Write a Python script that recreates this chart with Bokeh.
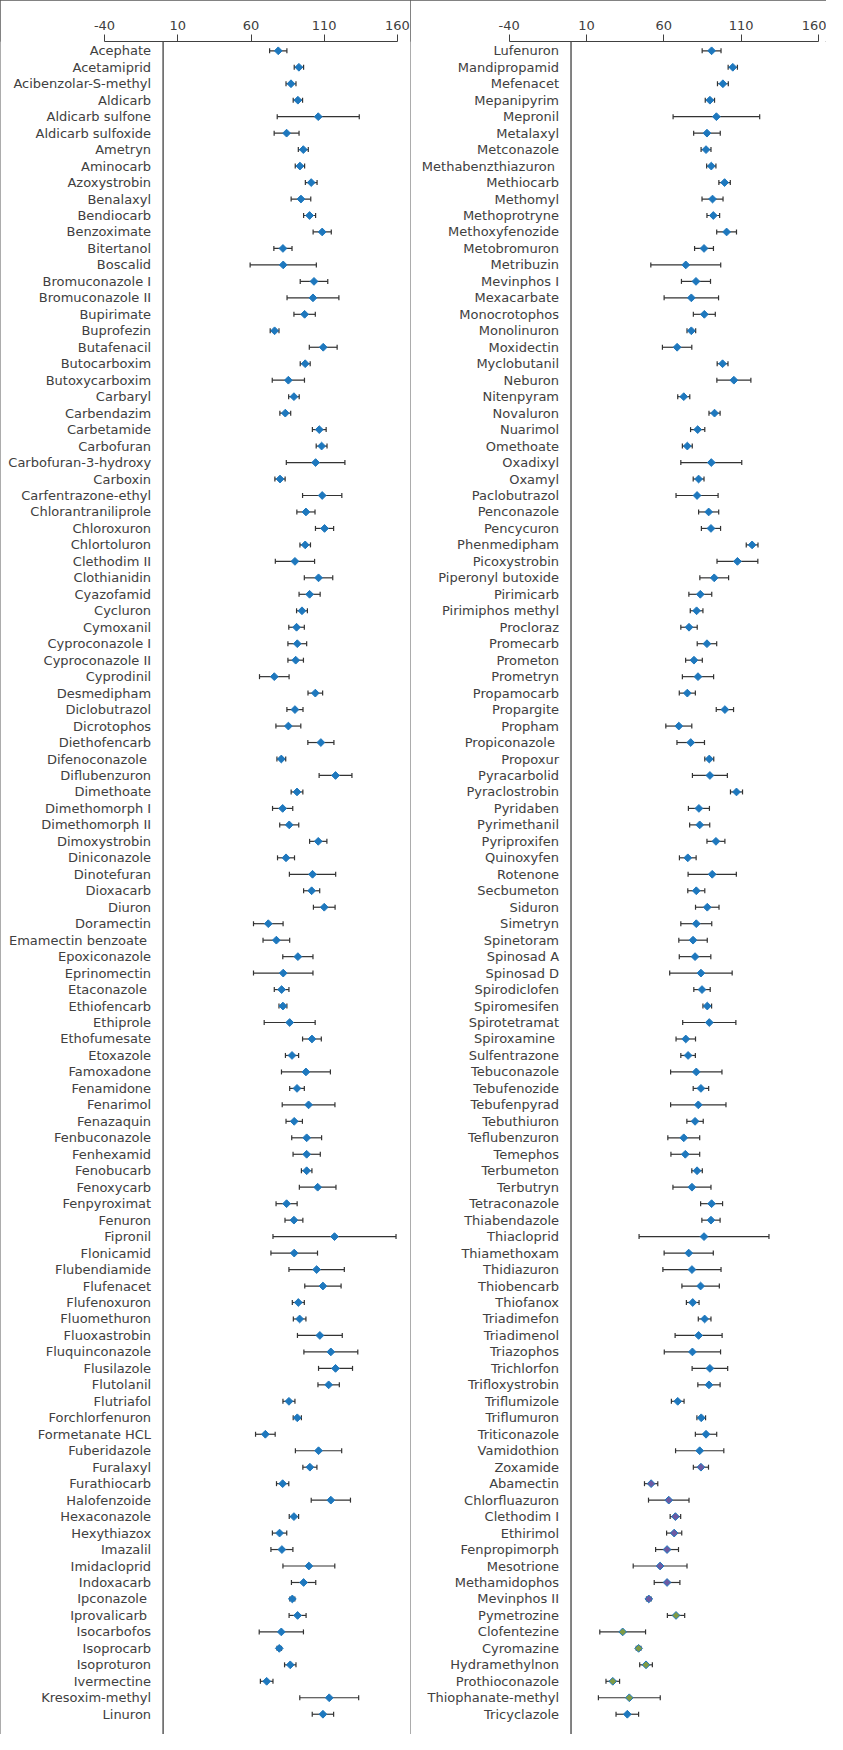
import math
from bokeh.plotting import figure
from bokeh.models import Range1d, LinearAxis, FixedTicker, Span, Whisker, ColumnDataSource
from bokeh.layouts import row
from bokeh.core.properties import value
from bokeh.embed import file_html
from bokeh.resources import INLINE

tick_values = [-40, 10, 60, 110, 160]
tick_labels = ["-40", "10", "60", "110", "160"]

left_names = [
    "Acephate", "Acetamiprid", "Acibenzolar-S-methyl", "Aldicarb", "Aldicarb sulfone",
    "Aldicarb sulfoxide", "Ametryn", "Aminocarb", "Azoxystrobin", "Benalaxyl",
    "Bendiocarb", "Benzoximate", "Bitertanol", "Boscalid", "Bromuconazole I",
    "Bromuconazole II", "Bupirimate", "Buprofezin", "Butafenacil", "Butocarboxim",
    "Butoxycarboxim", "Carbaryl", "Carbendazim", "Carbetamide", "Carbofuran",
    "Carbofuran-3-hydroxy", "Carboxin", "Carfentrazone-ethyl", "Chlorantraniliprole", "Chloroxuron",
    "Chlortoluron", "Clethodim II", "Clothianidin", "Cyazofamid", "Cycluron",
    "Cymoxanil", "Cyproconazole I", "Cyproconazole II", "Cyprodinil", "Desmedipham",
    "Diclobutrazol", "Dicrotophos", "Diethofencarb", "Difenoconazole ", "Diflubenzuron",
    "Dimethoate", "Dimethomorph I", "Dimethomorph II", "Dimoxystrobin", "Diniconazole",
    "Dinotefuran", "Dioxacarb", "Diuron", "Doramectin", "Emamectin benzoate ",
    "Epoxiconazole", "Eprinomectin", "Etaconazole ", "Ethiofencarb", "Ethiprole",
    "Ethofumesate", "Etoxazole", "Famoxadone", "Fenamidone", "Fenarimol",
    "Fenazaquin", "Fenbuconazole", "Fenhexamid", "Fenobucarb", "Fenoxycarb",
    "Fenpyroximat", "Fenuron", "Fipronil", "Flonicamid", "Flubendiamide",
    "Flufenacet", "Flufenoxuron", "Fluomethuron", "Fluoxastrobin", "Fluquinconazole",
    "Flusilazole", "Flutolanil", "Flutriafol", "Forchlorfenuron", "Formetanate HCL",
    "Fuberidazole", "Furalaxyl", "Furathiocarb", "Halofenzoide", "Hexaconazole",
    "Hexythiazox", "Imazalil", "Imidacloprid", "Indoxacarb", "Ipconazole ",
    "Iprovalicarb ", "Isocarbofos", "Isoprocarb", "Isoproturon", "Ivermectine",
    "Kresoxim-methyl", "Linuron",
]
left_values = [
    78.6, 92.7, 87.3, 92.0, 105.9, 84.3, 95.7, 93.4, 101.1, 94.1,
    100.0, 108.6, 81.8, 82.0, 103.0, 102.3, 96.6, 76.1, 109.3, 97.0,
    85.5, 89.3, 83.4, 106.6, 108.2, 104.1, 79.8, 108.6, 97.5, 110.2,
    97.0, 90.0, 106.1, 100.0, 94.8, 91.1, 91.6, 90.5, 75.9, 103.9,
    90.0, 85.5, 107.7, 80.7, 117.7, 91.4, 81.6, 86.1, 105.9, 83.9,
    102.0, 101.4, 110.0, 71.8, 77.3, 92.0, 82.0, 80.9, 81.8, 86.4,
    101.6, 88.0, 97.5, 91.4, 99.3, 89.5, 98.0, 98.0, 98.0, 105.5,
    84.3, 89.3, 117.0, 89.5, 104.8, 109.1, 92.3, 93.2, 107.0, 114.5,
    117.7, 113.0, 85.9, 91.6, 69.8, 106.1, 100.2, 81.6, 114.5, 89.3,
    79.5, 81.1, 99.5, 95.9, 88.2, 91.8, 80.7, 79.3, 86.8, 70.7,
    113.4, 109.1,
]
left_errors = [
    5.9, 3.2, 3.4, 3.2, 28.0, 8.5, 3.4, 3.2, 4.0, 6.7,
    4.1, 6.2, 6.2, 22.6, 9.4, 17.7, 7.3, 3.0, 9.5, 3.4,
    11.0, 3.6, 3.7, 4.7, 3.7, 20.0, 3.5, 13.4, 6.2, 6.2,
    3.6, 13.4, 9.7, 7.2, 3.7, 5.3, 6.4, 5.3, 10.1, 5.0,
    5.5, 8.5, 8.9, 3.0, 11.2, 4.0, 6.9, 6.5, 5.9, 5.8,
    15.8, 5.5, 7.4, 10.1, 9.1, 10.3, 20.3, 5.0, 2.7, 17.4,
    6.4, 4.5, 16.7, 5.0, 18.0, 5.6, 10.2, 9.3, 3.6, 12.5,
    7.2, 6.1, 42.0, 15.9, 18.9, 12.4, 4.1, 4.3, 15.3, 18.4,
    11.6, 7.3, 4.1, 2.8, 6.7, 15.8, 4.8, 4.2, 13.4, 3.2,
    4.9, 7.5, 17.7, 8.3, 1.7, 5.8, 15.1, 1.5, 3.9, 4.3,
    20.1, 7.3,
]
left_groups = ["A"] * len(left_names)

right_names = [
    "Lufenuron", "Mandipropamid", "Mefenacet", "Mepanipyrim", "Mepronil",
    "Metalaxyl", "Metconazole", "Methabenzthiazuron ", "Methiocarb", "Methomyl",
    "Methoprotryne", "Methoxyfenozide", "Metobromuron", "Metribuzin", "Mevinphos I",
    "Mexacarbate", "Monocrotophos", "Monolinuron", "Moxidectin", "Myclobutanil",
    "Neburon", "Nitenpyram", "Novaluron", "Nuarimol", "Omethoate",
    "Oxadixyl", "Oxamyl", "Paclobutrazol", "Penconazole", "Pencycuron",
    "Phenmedipham", "Picoxystrobin", "Piperonyl butoxide", "Pirimicarb", "Pirimiphos methyl",
    "Procloraz", "Promecarb", "Prometon", "Prometryn", "Propamocarb",
    "Propargite", "Propham", "Propiconazole ", "Propoxur", "Pyracarbolid",
    "Pyraclostrobin", "Pyridaben", "Pyrimethanil", "Pyriproxifen", "Quinoxyfen",
    "Rotenone", "Secbumeton", "Siduron", "Simetryn", "Spinetoram",
    "Spinosad A", "Spinosad D", "Spirodiclofen", "Spiromesifen", "Spirotetramat",
    "Spiroxamine ", "Sulfentrazone", "Tebuconazole", "Tebufenozide", "Tebufenpyrad",
    "Tebuthiuron", "Teflubenzuron", "Temephos", "Terbumeton", "Terbutryn",
    "Tetraconazole", "Thiabendazole", "Thiacloprid", "Thiamethoxam", "Thidiazuron",
    "Thiobencarb", "Thiofanox", "Triadimefon", "Triadimenol", "Triazophos",
    "Trichlorfon", "Trifloxystrobin", "Triflumizole", "Triflumuron", "Triticonazole",
    "Vamidothion", "Zoxamide", "Abamectin", "Chlorfluazuron", "Clethodim I",
    "Ethirimol", "Fenpropimorph", "Mesotrione", "Methamidophos", "Mevinphos II",
    "Pymetrozine", "Clofentezine", "Cyromazine", "Hydramethylnon", "Prothioconazole",
    "Thiophanate-methyl", "Tricyclazole",
]
right_values = [
    90.9, 104.6, 98.2, 89.8, 94.0, 87.9, 87.3, 90.7, 99.3, 91.5,
    92.0, 100.6, 86.0, 74.2, 80.8, 77.8, 86.2, 77.8, 68.6, 98.0,
    105.3, 72.9, 92.8, 81.9, 75.2, 90.7, 82.5, 81.5, 89.0, 90.5,
    117.1, 107.6, 92.6, 83.6, 81.2, 76.3, 87.9, 79.5, 82.1, 75.2,
    99.5, 69.7, 77.4, 89.4, 89.8, 107.0, 82.7, 83.2, 93.7, 75.5,
    91.3, 81.0, 88.1, 81.0, 78.9, 80.2, 84.0, 84.7, 88.1, 89.4,
    74.2, 75.7, 81.0, 84.0, 82.3, 80.2, 72.9, 73.9, 81.5, 78.2,
    90.9, 90.5, 86.0, 76.1, 78.2, 83.8, 78.7, 86.4, 82.5, 78.5,
    89.8, 89.2, 69.0, 84.2, 87.3, 83.2, 84.0, 51.8, 63.2, 67.5,
    66.7, 62.1, 57.6, 62.1, 50.3, 67.9, 33.4, 43.7, 48.5, 27.0,
    37.7, 36.4,
]
right_errors = [
    6.1, 3.0, 3.5, 3.0, 28.0, 8.6, 3.2, 3.0, 3.7, 6.8,
    4.1, 6.4, 6.1, 22.6, 9.4, 17.6, 7.1, 2.8, 9.5, 3.5,
    11.0, 3.9, 3.6, 4.6, 3.2, 19.7, 3.5, 13.6, 6.5, 6.2,
    3.8, 13.2, 9.3, 7.4, 4.1, 5.3, 6.3, 5.4, 10.1, 5.2,
    5.6, 8.4, 8.9, 2.9, 11.3, 3.9, 6.8, 6.5, 5.8, 5.4,
    15.6, 5.5, 7.6, 10.0, 9.2, 10.2, 20.2, 5.3, 2.8, 17.2,
    6.3, 4.7, 16.6, 5.0, 17.9, 5.3, 10.3, 9.3, 3.4, 12.3,
    7.1, 5.9, 42.0, 15.9, 18.8, 12.1, 4.1, 4.1, 15.2, 18.2,
    11.5, 7.2, 4.1, 2.8, 6.9, 15.6, 4.9, 4.3, 13.1, 3.4,
    4.9, 7.4, 17.4, 8.3, 1.5, 5.6, 14.8, 1.5, 4.1, 4.4,
    20.0, 7.3,
]
right_groups = ["A"] * 86 + ["B"] * 9 + ["C"] * 6 + ["A"]

group_fill = {"A": "#1e78be", "B": "#6c5aa3", "C": "#7f9b45"}
marker_edge = "#1e78be"
text_color = "#404040"
frame_color = "#595959"
FONT = "DejaVu Sans"
H = 1734
TOP = 41


def make_panel(names, vals, errs, groups, width, x0, x1, extra_styles):
    n = len(names)
    src = ColumnDataSource(dict(
        name=names,
        v=vals,
        y=list(range(n)),
        lo=[v - e for v, e in zip(vals, errs)],
        hi=[v + e for v, e in zip(vals, errs)],
        fill=[group_fill[g] for g in groups],
    ))
    p = figure(width=width, height=H, x_range=Range1d(x0, x1),
               y_range=Range1d(102.23, -0.565),
               output_backend="svg", toolbar_location=None,
               x_axis_location=None, y_axis_location=None,
               min_border_left=0, min_border_right=0,
               min_border_bottom=0, min_border_top=TOP)
    p.grid.visible = False
    p.outline_line_color = None
    p.background_fill_color = "white"
    p.border_fill_color = "white"

    ax = LinearAxis(ticker=FixedTicker(ticks=tick_values),
                    bounds=(tick_values[0], tick_values[-1]))
    ax.major_label_overrides = {t: s for t, s in zip(tick_values, tick_labels)}
    ax.axis_line_color = "#404040"
    ax.axis_line_width = 1
    ax.major_tick_line_color = "#404040"
    ax.major_tick_out = 7
    ax.major_tick_in = 0
    ax.minor_tick_out = 0
    ax.minor_tick_in = 0
    ax.major_label_standoff = 5
    ax.major_label_text_font = FONT
    ax.major_label_text_font_size = "13px"
    ax.major_label_text_color = text_color
    p.add_layout(ax, "above")

    p.add_layout(Span(location=0, dimension="height", line_color=frame_color, line_width=1.5))

    w = Whisker(source=src, base="y", lower="lo", upper="hi", dimension="width",
                line_color="#333333", line_width=1.2, level="underlay")
    w.upper_head.size = 5
    w.lower_head.size = 5
    w.upper_head.line_color = "#333333"
    w.lower_head.line_color = "#333333"
    w.upper_head.line_width = 1.2
    w.lower_head.line_width = 1.2
    p.add_layout(w)

    p.scatter(x="v", y="y", source=src, marker="square", angle=math.pi / 4, size=5.5,
              fill_color="fill", line_color=marker_edge, line_width=1)

    p.text(x=0, y="y", text="name", source=src, x_offset=-12,
           text_align="right", text_baseline="middle",
           text_font=value(FONT), text_font_size=value("13px"), text_color=text_color)

    styles = {"outline": "1px solid " + frame_color, "outline-offset": "-1px"}
    styles.update(extra_styles)
    p.styles = styles
    return p


p1 = make_panel(left_names, left_values, left_errors, left_groups, 411, -111.0, 169.56, {})
p2 = make_panel(right_names, right_values, right_errors, right_groups, 416, -103.8, 165.2,
                {"margin-left": "-1px"})

layout = row(p1, p2)
open("out.html", "w").write(file_html(layout, INLINE))
